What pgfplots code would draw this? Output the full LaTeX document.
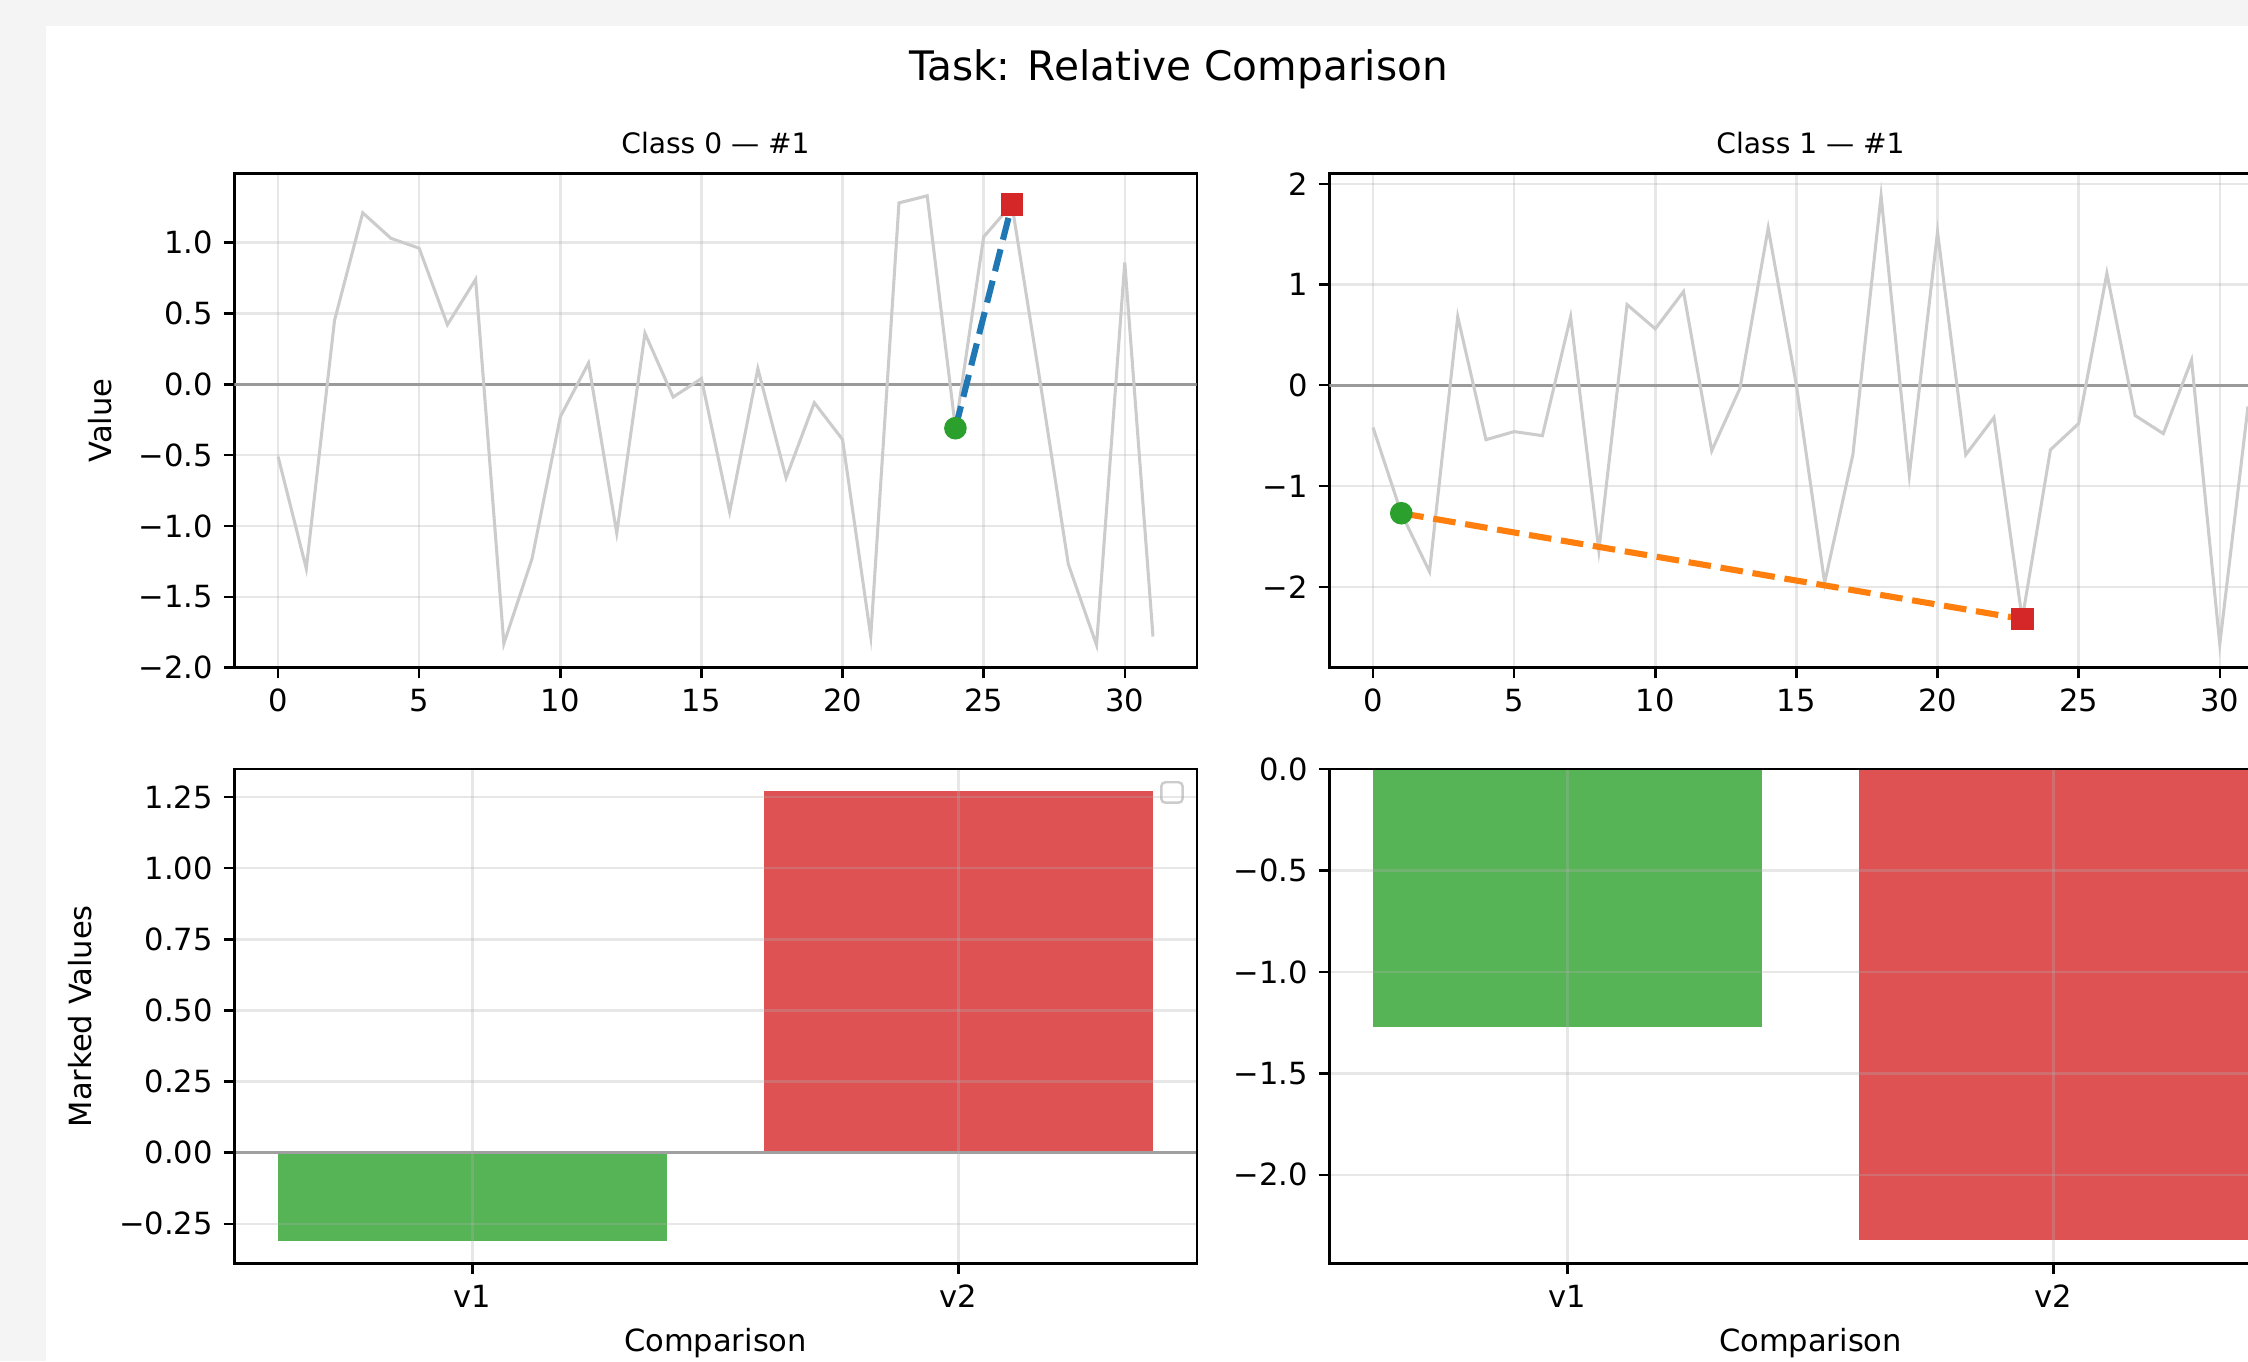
\documentclass[border=0pt]{standalone}
\usepackage{fontspec}
\setmainfont{DejaVu Sans}
\usepackage{pgfplots}
\pgfplotsset{compat=1.18}
\definecolor{bggray}{HTML}{F4F4F4}
\definecolor{linegray}{HTML}{CCCCCC}
\definecolor{zerogray}{HTML}{9A9A9A}
\definecolor{gridc}{HTML}{B0B0B0}
\definecolor{tabblue}{HTML}{1F77B4}
\definecolor{taborange}{HTML}{FF7F0E}
\definecolor{tabgreen}{HTML}{2CA02C}
\definecolor{tabred}{HTML}{D62728}
\definecolor{bargreen}{HTML}{56B356}
\definecolor{barred}{HTML}{DE5253}
\definecolor{legc}{HTML}{CCCCCC}
\pgfplotsset{
  mpl/.style={
    scale only axis, width=315pt, height=161.8pt, anchor=south west,
    axis line style={line width=0.8pt, black},
    tick align=outside, major tick length=3.5pt, tick pos=left,
    every tick/.style={line width=0.8pt, black},
    grid=major, grid style={line width=0.8pt, draw=gridc, draw opacity=0.3},
    tick label style={font=\fontsize{10}{12}\selectfont},
    label style={font=\fontsize{10}{12}\selectfont},
    ylabel style={at={(ticklabel cs:0.5,1.9pt)}},
    title style={font=\fontsize{9.2}{11}\selectfont, at={(0.5,1)}, anchor=base, yshift=0.5pt},
    /pgf/number format/assume math mode=true,
  },
}
\begin{document}
\begin{tikzpicture}
\useasboundingbox (0,0) rectangle (735.77pt,445.46pt);
\clip (0,0) rectangle (735.77pt,445.46pt);
\fill[bggray] (0,0) rectangle (735.77pt,445.46pt);
\fill[white] (15.06pt,0) rectangle (735.77pt,436.95pt);
\node[font=\fontsize{13.3}{16}\selectfont, anchor=base, inner sep=0pt] at (385.72pt,419.04pt) {Task: Relative Comparison};

% Top left
\begin{axis}[mpl, at={(76.69pt,226.92pt)},
  xmin=-1.55, xmax=32.55, ymin=-2.0, ymax=1.4885,
  xtick={0,5,10,15,20,25,30},
  ytick={-2,-1.5,-1,-0.5,0,0.5,1},
  yticklabels={−2.0,−1.5,−1.0,−0.5,0.0,0.5,1.0},
  title={Class 0 — \#1}, ylabel={Value}]
\addplot[zerogray, line width=0.9pt, forget plot] coordinates {(-1.55,0) (32.55,0)};
\addplot[linegray, line width=1pt] coordinates {
(0,-0.51) (1,-1.30) (2,0.45) (3,1.21) (4,1.03) (5,0.96) (6,0.42) (7,0.74)
(8,-1.83) (9,-1.23) (10,-0.23) (11,0.15) (12,-1.05) (13,0.36) (14,-0.09) (15,0.04)
(16,-0.90) (17,0.11) (18,-0.66) (19,-0.13) (20,-0.39) (21,-1.78) (22,1.28) (23,1.33)
(24,-0.31) (25,1.04) (26,1.27) (27,0.02) (28,-1.27) (29,-1.84) (30,0.86) (31,-1.78)};
\addplot[only marks, mark=*, mark size=3.5pt, tabgreen] coordinates {(24,-0.31)};
\addplot[only marks, mark=square*, mark size=3.5pt, tabred] coordinates {(26,1.27)};
\addplot[tabblue, line width=2pt, dash pattern=on 7.4pt off 3.2pt] coordinates {(24,-0.31) (26,1.27)};
\end{axis}

% Top right
\begin{axis}[mpl, at={(435.08pt,226.92pt)},
  xmin=-1.55, xmax=32.55, ymin=-2.803, ymax=2.103,
  xtick={0,5,10,15,20,25,30},
  ytick={-2,-1,0,1,2},
  yticklabels={−2,−1,0,1,2},
  title={Class 1 — \#1}]
\addplot[zerogray, line width=0.9pt, forget plot] coordinates {(-1.55,0) (32.55,0)};
\addplot[linegray, line width=1pt] coordinates {
(0,-0.42) (1,-1.27) (2,-1.85) (3,0.68) (4,-0.54) (5,-0.46) (6,-0.50) (7,0.68)
(8,-1.64) (9,0.80) (10,0.56) (11,0.93) (12,-0.65) (13,-0.03) (14,1.56) (15,0.00)
(16,-1.96) (17,-0.69) (18,1.88) (19,-0.89) (20,1.52) (21,-0.69) (22,-0.32) (23,-2.32)
(24,-0.64) (25,-0.38) (26,1.11) (27,-0.30) (28,-0.48) (29,0.25) (30,-2.57) (31,-0.21)};
\addplot[only marks, mark=*, mark size=3.5pt, tabgreen] coordinates {(1,-1.27)};
\addplot[only marks, mark=square*, mark size=3.5pt, tabred] coordinates {(23,-2.32)};
\addplot[taborange, line width=2pt, dash pattern=on 7.4pt off 3.2pt] coordinates {(1,-1.27) (23,-2.32)};
\end{axis}

% Bottom left
\begin{axis}[mpl, at={(76.69pt,31.98pt)}, axis on top,
  xmin=-0.49, xmax=1.49, ymin=-0.389, ymax=1.349,
  xtick={0,1}, xticklabels={v1,v2},
  ytick={-0.25,0,0.25,0.5,0.75,1,1.25},
  yticklabels={−0.25,0.00,0.25,0.50,0.75,1.00,1.25},
  xlabel={Comparison}, ylabel={Marked Values}]
\addplot[ybar, bar width=0.8, bar shift=0pt, fill=bargreen, draw=none] coordinates {(0,-0.31)};
\addplot[ybar, bar width=0.8, bar shift=0pt, fill=barred, draw=none] coordinates {(1,1.27)};
\addplot[zerogray, line width=0.9pt, forget plot] coordinates {(-0.49,0) (1.49,0)};
\draw[legc, line width=0.8pt, fill=white, fill opacity=0.8, rounded corners=1.3pt]
  (rel axis cs:0.9632,0.9318) rectangle (rel axis cs:0.9853,0.9731);
\end{axis}

% Bottom right
\begin{axis}[mpl, at={(435.08pt,31.98pt)}, axis on top,
  xmin=-0.49, xmax=1.49, ymin=-2.436, ymax=0,
  xtick={0,1}, xticklabels={v1,v2},
  ytick={-2,-1.5,-1,-0.5,0},
  yticklabels={−2.0,−1.5,−1.0,−0.5,0.0},
  xlabel={Comparison}]
\addplot[ybar, bar width=0.8, bar shift=0pt, fill=bargreen, draw=none] coordinates {(0,-1.27)};
\addplot[ybar, bar width=0.8, bar shift=0pt, fill=barred, draw=none] coordinates {(1,-2.32)};
\end{axis}
\end{tikzpicture}
\end{document}
